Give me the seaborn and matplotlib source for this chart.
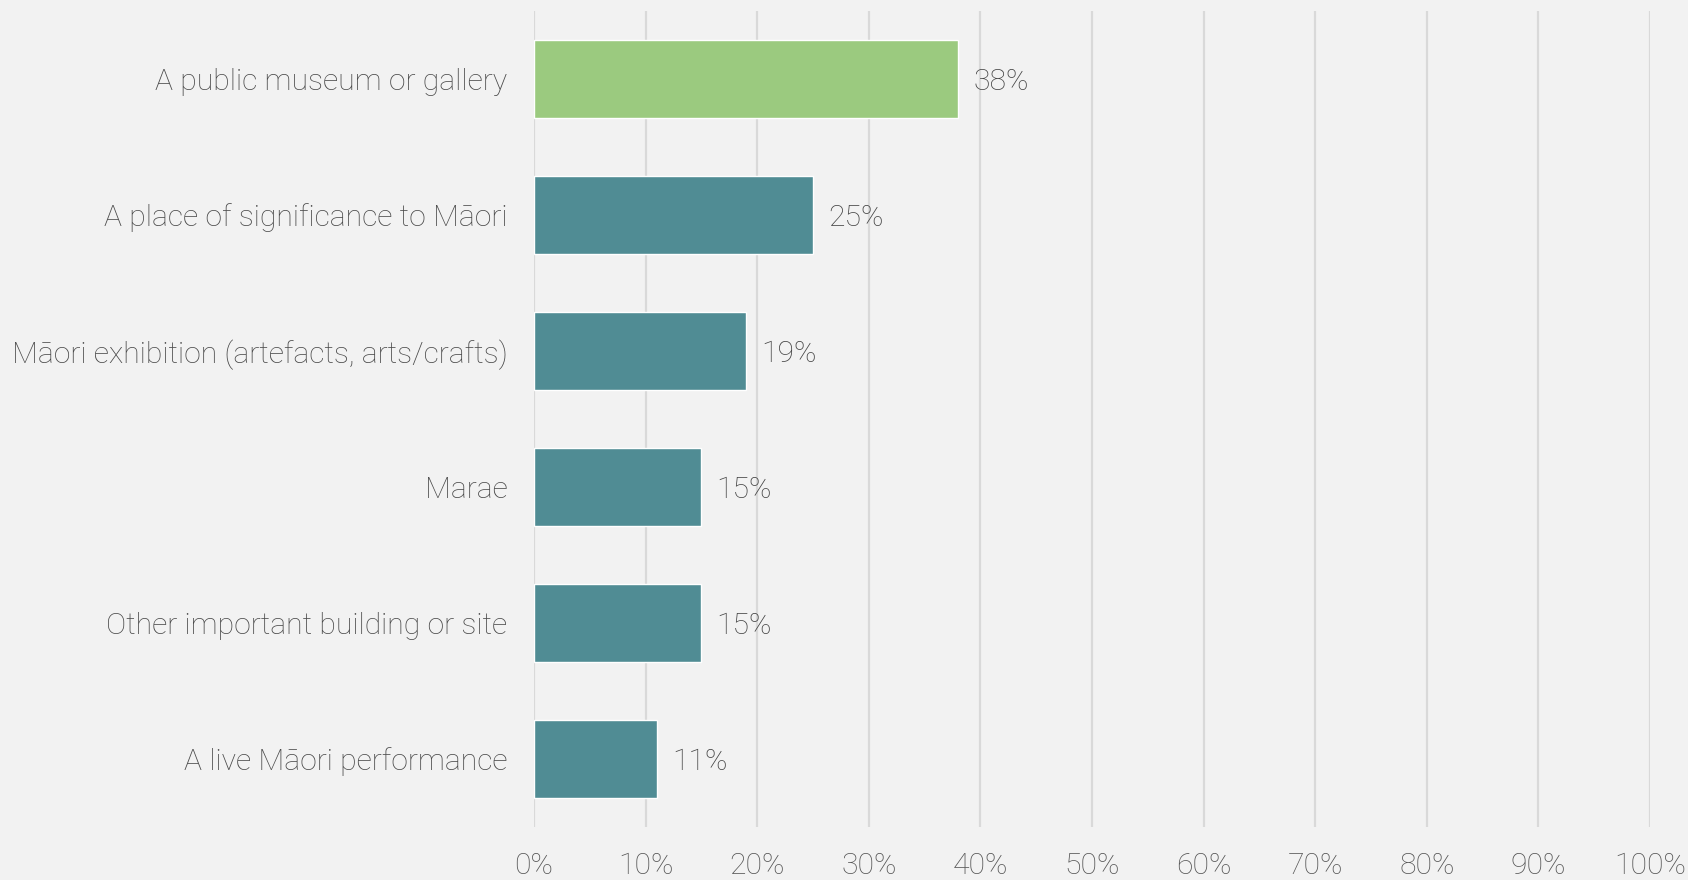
import matplotlib
matplotlib.use("Agg")
import matplotlib.pyplot as plt
import seaborn as sns
import pandas as pd
from matplotlib.ticker import FuncFormatter

categories = [
    "A public museum or gallery",
    "A place of significance to Māori",
    "Māori exhibition (artefacts, arts/crafts)",
    "Marae",
    "Other important building or site",
    "A live Māori performance",
]
values = [38, 25, 19, 15, 15, 11]
highlight = ["yes", "no", "no", "no", "no", "no"]
x_ticks = [0, 10, 20, 30, 40, 50, 60, 70, 80, 90, 100]

df = pd.DataFrame({"category": categories, "value": values, "hl": highlight})

sns.set_theme(style="white")
plt.rcParams["font.family"] = ["Roboto", "DejaVu Sans"]

BG = "#F2F2F2"
FS = 21.7
fig = plt.figure(figsize=(16.88, 8.8), dpi=100, facecolor=BG)
ax = fig.add_axes([534 / 1688, 53 / 880, 1116 / 1688, 816 / 880])
ax.set_facecolor(BG)

sns.barplot(data=df, y="category", x="value", hue="hl",
            palette={"yes": "#9BCA7F", "no": "#508C94"},
            order=categories, hue_order=["yes", "no"],
            dodge=False, legend=False, width=0.57, saturation=1, ax=ax)

ax.set_xlim(0, 100)
ax.set_ylim(5.5, -0.5)
ax.set_xticks(x_ticks)
ax.xaxis.set_major_formatter(FuncFormatter(lambda v, p: f"{int(v)}%"))
ax.grid(axis="x", color="#D9D9D9", linewidth=1.6)
ax.set_axisbelow(True)
for s in ax.spines.values():
    s.set_visible(False)
ax.set_xlabel("")
ax.set_ylabel("")
ax.tick_params(axis="x", length=0, pad=18, labelsize=FS, labelcolor="#555555")
ax.tick_params(axis="y", length=0, pad=19, labelsize=FS, labelcolor="#4A4A4A")
for lab in ax.get_xticklabels() + ax.get_yticklabels():
    lab.set_fontweight("light")

for cont in ax.containers:
    texts = ax.bar_label(cont, labels=[f"{v:.0f}%" if v == v else "" for v in cont.datavalues],
                         padding=11, fontsize=FS, color="#444444", fontweight="light")
    for t in texts:
        t.set_va("center_baseline")

fig.savefig("out.png", dpi=100, facecolor=BG)
